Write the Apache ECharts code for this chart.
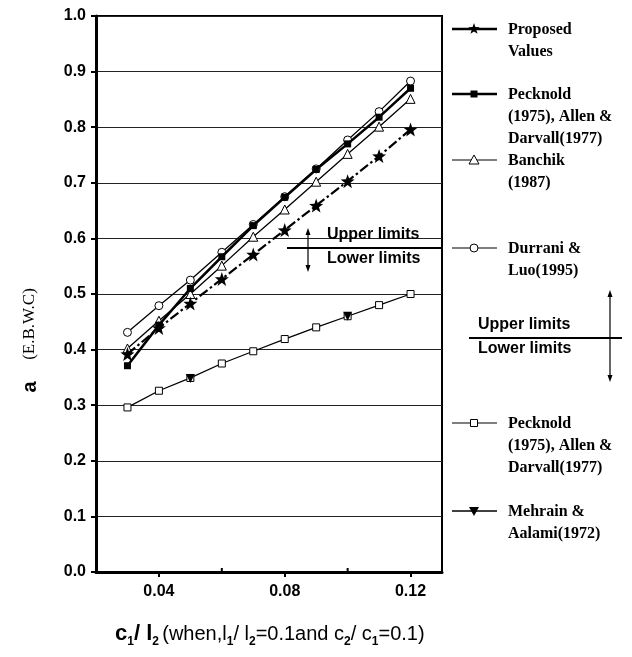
<!DOCTYPE html>
<html>
<head>
<meta charset="utf-8">
<script src="https://cdn.jsdelivr.net/npm/echarts@6/dist/echarts.min.js"></script>
<style>
  html, body { margin: 0; padding: 0; background: #fff; }
  #chart { width: 632px; height: 657px; }
</style>
</head>
<body>
<div id="chart"></div>
<script>
// c1 / l2 ratios
const ratios = [0.03, 0.04, 0.05, 0.06, 0.07, 0.08, 0.09, 0.10, 0.11, 0.12];

// effective beam width coefficient per method
const proposedValues = [0.392, 0.439, 0.483, 0.527, 0.571, 0.615, 0.659, 0.703, 0.748, 0.796];
const pecknoldUpper  = [0.371, 0.444, 0.510, 0.567, 0.623, 0.674, 0.724, 0.770, 0.818, 0.870];
const banchik        = [0.402, 0.452, 0.500, 0.551, 0.603, 0.652, 0.702, 0.752, 0.801, 0.851];
const durraniLuo     = [0.431, 0.479, 0.525, 0.575, 0.625, 0.675, 0.725, 0.777, 0.828, 0.883];
const pecknoldLower  = [0.296, 0.326, 0.349, 0.375, 0.397, 0.419, 0.440, 0.460, 0.480, 0.500];
const mehrainRatios  = [0.05, 0.10];
const mehrainValues  = [0.348, 0.460];

// axis tick labels
const xTicks = [0.04, 0.08, 0.12];
const xMinorTicks = [0.06, 0.10];

const legendNames = [
  ['Proposed', 'Values'],
  ['Pecknold', '(1975), Allen &', 'Darvall(1977)'],
  ['Banchik', '(1987)'],
  ['Durrani &', 'Luo(1995)'],
  ['Pecknold', '(1975), Allen &', 'Darvall(1977)'],
  ['Mehrain &', 'Aalami(1972)']
];

const pair = (xs, ys) => xs.map((x, i) => [x, ys[i]]);
const STAR = 'path://M0,-10 L2.35,-3.24 L9.51,-3.09 L3.8,1.24 L5.88,8.09 L0,4 L-5.88,8.09 L-3.8,1.24 L-9.51,-3.09 L-2.35,-3.24 Z';
const SANS = '"Liberation Sans", Arial, sans-serif';
const SERIF = '"Liberation Serif", "Times New Roman", serif';

const chart = echarts.init(document.getElementById('chart'), null, { renderer: 'canvas' });

function starPoints(cx, cy, r) {
  const pts = [];
  for (let i = 0; i < 10; i++) {
    const a = -Math.PI / 2 + i * Math.PI / 5;
    const rr = i % 2 === 0 ? r : r * 0.4;
    pts.push([cx + rr * Math.cos(a), cy + rr * Math.sin(a)]);
  }
  return pts;
}

// legend drawn as graphics: sample line, marker, multi-line label
const legendRows = [29, 94, 160, 248, 423, 511];
const legendKinds = ['star', 'fsquare', 'triangle', 'circle', 'osquare', 'itriangle'];
const legendWidths = [2.5, 2.5, 1.2, 1.2, 1.2, 1.5];
const legendGraphics = [];
legendRows.forEach((y, k) => {
  const x0 = 452, x1 = 497, cx = 474;
  legendGraphics.push({ type: 'line', shape: { x1: x0, y1: y, x2: x1, y2: y },
    style: { stroke: '#000', lineWidth: legendWidths[k] }, z: 10 });
  const kind = legendKinds[k];
  let sym;
  if (kind === 'star') sym = { type: 'polygon', shape: { points: starPoints(cx, y, 6) }, style: { fill: '#000' } };
  else if (kind === 'fsquare') sym = { type: 'rect', shape: { x: cx - 3.5, y: y - 3.5, width: 7, height: 7 }, style: { fill: '#000' } };
  else if (kind === 'osquare') sym = { type: 'rect', shape: { x: cx - 3.5, y: y - 3.5, width: 7, height: 7 }, style: { fill: '#fff', stroke: '#000', lineWidth: 1 } };
  else if (kind === 'circle') sym = { type: 'circle', shape: { cx: cx, cy: y, r: 4 }, style: { fill: '#fff', stroke: '#000', lineWidth: 1 } };
  else if (kind === 'triangle') sym = { type: 'polygon', shape: { points: [[cx, y - 5], [cx + 5, y + 4], [cx - 5, y + 4]] }, style: { fill: '#fff', stroke: '#000', lineWidth: 1 } };
  else sym = { type: 'polygon', shape: { points: [[cx - 5, y - 4], [cx + 5, y - 4], [cx, y + 5]] }, style: { fill: '#000' } };
  sym.z = 11;
  legendGraphics.push(sym);
  legendGraphics.push({
    type: 'text', left: 508, top: y - 10, z: 10,
    style: { text: legendNames[k].join('\n'), font: 'bold 16px ' + SERIF, fill: '#000', lineHeight: 22 }
  });
});

// upper / lower limit annotations
function limitMark(textX, upperY, lineX0, lineX1, lineY, arrowX, arrowTop, arrowBottom) {
  return [
    { type: 'text', left: textX, top: upperY - 10, z: 12,
      style: { text: 'Upper limits', font: 'bold 16px ' + SANS, fill: '#000' } },
    { type: 'text', left: textX, top: lineY + 3, z: 12,
      style: { text: 'Lower limits', font: 'bold 16px ' + SANS, fill: '#000' } },
    { type: 'line', shape: { x1: lineX0, y1: lineY, x2: lineX1, y2: lineY }, z: 12,
      style: { stroke: '#000', lineWidth: 2 } },
    { type: 'line', shape: { x1: arrowX, y1: arrowTop + 4, x2: arrowX, y2: arrowBottom - 4 }, z: 12,
      style: { stroke: '#000', lineWidth: 1.2 } },
    { type: 'polygon', shape: { points: [[arrowX, arrowTop], [arrowX - 2.5, arrowTop + 7], [arrowX + 2.5, arrowTop + 7]] }, z: 12,
      style: { fill: '#000' } },
    { type: 'polygon', shape: { points: [[arrowX, arrowBottom], [arrowX - 2.5, arrowBottom - 7], [arrowX + 2.5, arrowBottom - 7]] }, z: 12,
      style: { fill: '#000' } }
  ];
}

const baseGraphics = [
  ...legendGraphics,
  ...limitMark(327, 237, 287, 442, 248, 308, 228, 272),
  ...limitMark(478, 327, 469, 622, 338, 610, 290, 382),
  // y-axis title
  { type: 'text', x: 30, y: 387, rotation: Math.PI / 2, z: 10,
    style: { text: 'a', font: 'bold 20px ' + SANS, fill: '#000', align: 'center', verticalAlign: 'middle' } },
  { type: 'text', x: 30, y: 324, rotation: Math.PI / 2, z: 10,
    style: { text: '(E.B.W.C)', font: '17px ' + SERIF, fill: '#000', align: 'center', verticalAlign: 'middle' } },
  // x-axis title with subscripts
  { type: 'text', left: 115, top: 623, z: 10,
    style: {
      text: '{b|c}{s|1}{b|/ l}{s|2} {n|(when,l}{s|1}{n|/ l}{s|2}{n|=0.1and c}{s|2}{n|/ c}{s|1}{n|=0.1)}',
      rich: {
        b: { font: 'bold 22px ' + SANS, fill: '#000' },
        n: { font: '20px ' + SANS, fill: '#000' },
        s: { font: 'bold 12px ' + SANS, fill: '#000', padding: [15, 0, 0, 0] }
      }
    } }
];

const option = {
  backgroundColor: '#fff',
  animation: false,
  grid: { left: 96, top: 16, right: 190, bottom: 85, show: true, borderColor: '#000', borderWidth: 2, containLabel: false },
  xAxis: {
    type: 'value', min: 0.02, max: 0.13,
    axisLine: { show: true, lineStyle: { color: '#000', width: 3 } },
    axisTick: { show: true, customValues: xTicks, length: 5, lineStyle: { color: '#000', width: 2 } },
    axisLabel: { customValues: xTicks, formatter: v => v.toFixed(2), margin: 12,
      color: '#000', fontFamily: SANS, fontWeight: 'bold', fontSize: 16 },
    splitLine: { show: false }
  },
  yAxis: {
    type: 'value', min: 0, max: 1, interval: 0.1,
    axisLine: { show: true, lineStyle: { color: '#000', width: 3 } },
    axisTick: { show: true, length: 5, lineStyle: { color: '#000', width: 2 } },
    axisLabel: { formatter: v => v.toFixed(1), margin: 10,
      color: '#000', fontFamily: SANS, fontWeight: 'bold', fontSize: 16 },
    splitLine: { show: true, lineStyle: { color: '#222', width: 1 } }
  },
  series: [
    { name: 'Pecknold (1975), Allen & Darvall(1977) lower', type: 'line', data: pair(ratios, pecknoldLower),
      symbol: 'rect', symbolSize: 7, itemStyle: { color: '#fff', borderColor: '#000', borderWidth: 1 },
      lineStyle: { color: '#000', width: 1.3 }, z: 2 },
    { name: 'Mehrain & Aalami(1972)', type: 'line', data: pair(mehrainRatios, mehrainValues),
      symbol: 'triangle', symbolRotate: 180, symbolSize: 9, itemStyle: { color: '#000' },
      lineStyle: { width: 0, opacity: 0 }, z: 3 },
    { name: 'Durrani & Luo(1995)', type: 'line', data: pair(ratios, durraniLuo),
      symbol: 'circle', symbolSize: 8, itemStyle: { color: '#fff', borderColor: '#000', borderWidth: 1 },
      lineStyle: { color: '#000', width: 1.3 }, z: 3 },
    { name: 'Banchik (1987)', type: 'line', data: pair(ratios, banchik),
      symbol: 'triangle', symbolSize: 9, itemStyle: { color: '#fff', borderColor: '#000', borderWidth: 1 },
      lineStyle: { color: '#000', width: 1.3 }, z: 4 },
    { name: 'Pecknold (1975), Allen & Darvall(1977) upper', type: 'line', data: pair(ratios, pecknoldUpper),
      symbol: 'rect', symbolSize: 7, itemStyle: { color: '#000' },
      lineStyle: { color: '#000', width: 2.5 }, z: 5 },
    { name: 'Proposed Values', type: 'line', data: pair(ratios, proposedValues),
      symbol: STAR, symbolSize: 14, itemStyle: { color: '#000' },
      lineStyle: { color: '#000', width: 2.2, type: [10, 3, 2.5, 3] }, z: 6 }
  ],
  graphic: baseGraphics
};

chart.setOption(option);

// inward ticks at the intermediate x positions, placed via the axis scale
const minorGraphics = xMinorTicks.map(v => {
  const p = chart.convertToPixel({ gridIndex: 0 }, [v, 0]);
  return { type: 'line', shape: { x1: p[0], y1: p[1], x2: p[0], y2: p[1] - 4 },
    style: { stroke: '#000', lineWidth: 2 }, z: 10 };
});
chart.setOption({ graphic: baseGraphics.concat(minorGraphics) });
</script>
</body>
</html>
